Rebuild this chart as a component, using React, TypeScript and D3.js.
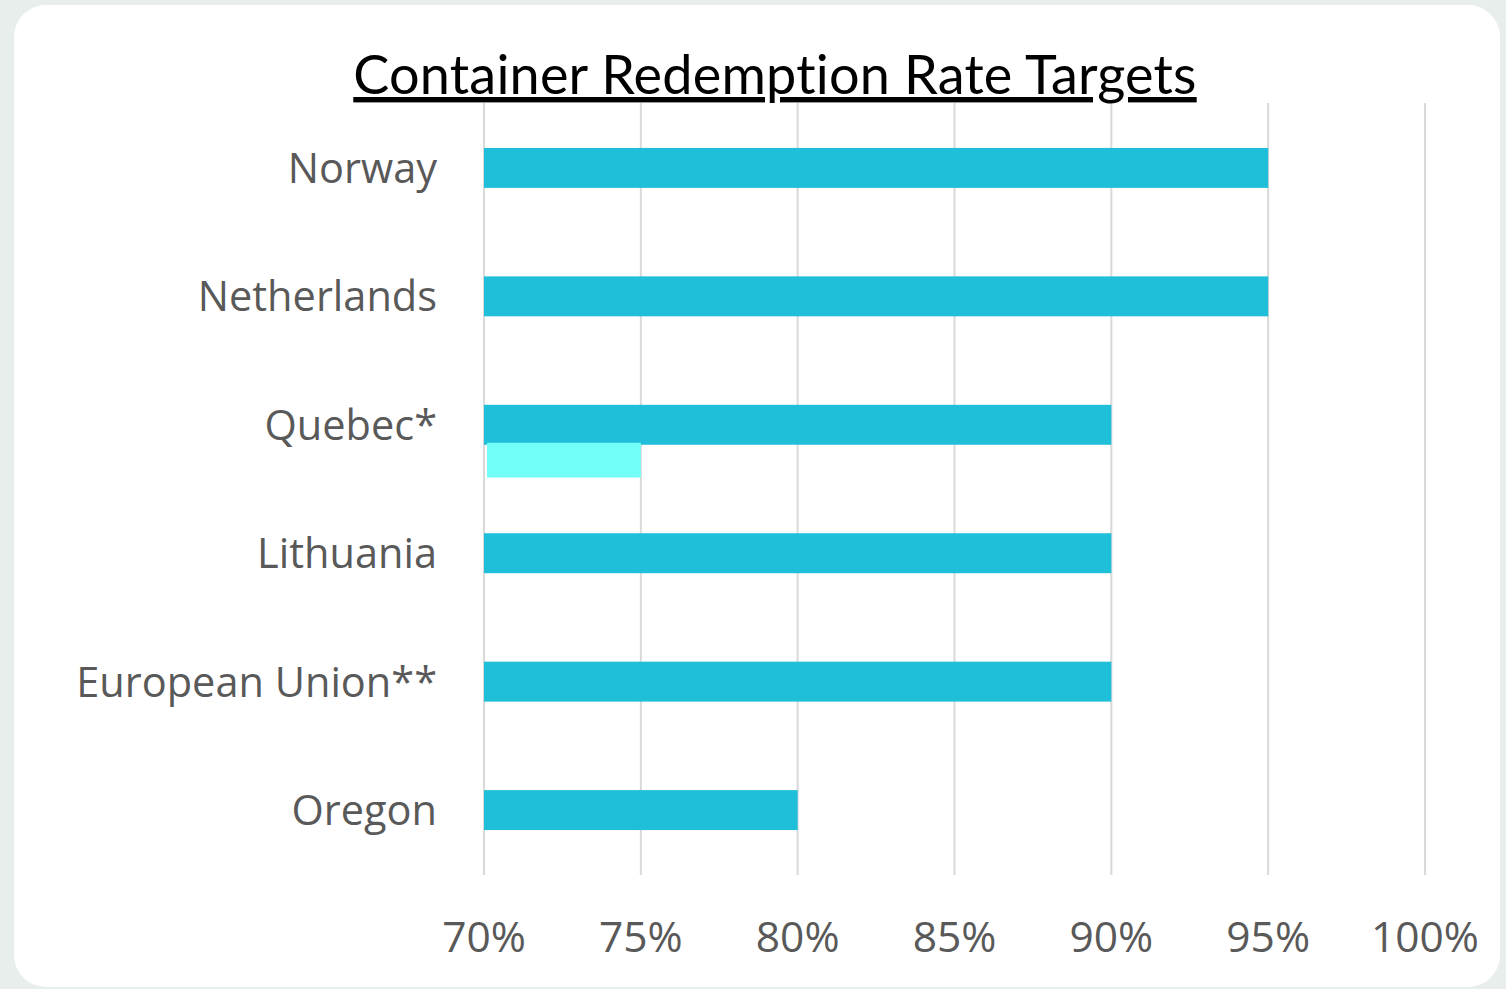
import { useEffect, useRef } from "react";
import * as d3 from "d3";

const categories = ["Norway", "Netherlands", "Quebec*", "Lithuania", "European Union**", "Oregon"];
const targetValues = [95, 95, 90, 90, 90, 80];
// second, lighter bar only shown for Quebec
const secondaryValues: (number | null)[] = [null, null, 75, null, null, null];
const tickValues = [70, 75, 80, 85, 90, 95, 100];
const title = "Container Redemption Rate Targets";

const App = () => {
  const svgRef = useRef<SVGSVGElement>(null);

  useEffect(() => {
    document.body.style.margin = "0";
    const width = 1506;
    const height = 989;
    const margin = { top: 103, right: 81, bottom: 114, left: 484 };

    const svg = d3.select(svgRef.current);
    svg.selectAll("*").remove();
    svg.attr("width", width).attr("height", height);

    // page background and white card
    svg.append("rect").attr("width", width).attr("height", height).attr("fill", "#e8eeec");
    svg.append("rect")
      .attr("x", 14).attr("y", 5)
      .attr("width", 1486).attr("height", 982)
      .attr("rx", 32)
      .attr("fill", "#ffffff");

    const x = d3.scaleLinear()
      .domain([70, 100])
      .range([margin.left, width - margin.right]);

    const y = d3.scaleBand()
      .domain(categories)
      .range([margin.top, height - margin.bottom])
      .paddingInner(0.689)
      .paddingOuter(0.35);

    // vertical gridlines
    svg.append("g")
      .selectAll("line")
      .data(tickValues)
      .join("line")
      .attr("x1", d => x(d))
      .attr("x2", d => x(d))
      .attr("y1", margin.top)
      .attr("y2", height - margin.bottom)
      .attr("stroke", "#d9d9d9")
      .attr("stroke-width", 2);

    // tick labels
    svg.append("g")
      .selectAll("text")
      .data(tickValues)
      .join("text")
      .attr("x", d => x(d))
      .attr("y", 952)
      .attr("text-anchor", "middle")
      .attr("font-family", "'Open Sans', sans-serif")
      .attr("font-size", 42.5)
      .attr("fill", "#595959")
      .text(d => `${d}%`);

    // main bars
    svg.append("g")
      .selectAll("rect")
      .data(categories)
      .join("rect")
      .attr("x", x(70))
      .attr("y", d => y(d)!)
      .attr("width", (_, i) => x(targetValues[i]) - x(70))
      .attr("height", y.bandwidth())
      .attr("fill", "#1fbfda");

    // secondary bar (drawn just below the main bar)
    const bw = y.bandwidth();
    svg.append("g")
      .selectAll("rect")
      .data(categories.filter((_, i) => secondaryValues[i] != null))
      .join("rect")
      .attr("x", x(70) + 3)
      .attr("y", d => y(d)! + bw - 2)
      .attr("width", d => x(secondaryValues[categories.indexOf(d)]!) - x(70) - 3)
      .attr("height", bw * 0.87)
      .attr("fill", "#72fff8");

    // category labels
    svg.append("g")
      .selectAll("text")
      .data(categories)
      .join("text")
      .attr("x", 437)
      .attr("y", d => y(d)! + bw / 2)
      .attr("dy", "0.36em")
      .attr("text-anchor", "end")
      .attr("font-family", "'Open Sans', sans-serif")
      .attr("font-size", 41.5)
      .attr("fill", "#595959")
      .text(d => d);

    // underlined title
    svg.append("text")
      .attr("x", 775)
      .attr("y", 94)
      .attr("text-anchor", "middle")
      .attr("font-family", "Lato, sans-serif")
      .attr("font-size", 54)
      .attr("letter-spacing", 0.2)
      .attr("fill", "#000000")
      .attr("text-decoration", "underline")
      .style("font-variant-ligatures", "none")
      .style("font-feature-settings", "'liga' 0")
      .text(title);
  }, []);

  return <svg ref={svgRef} />;
};

export default App;
